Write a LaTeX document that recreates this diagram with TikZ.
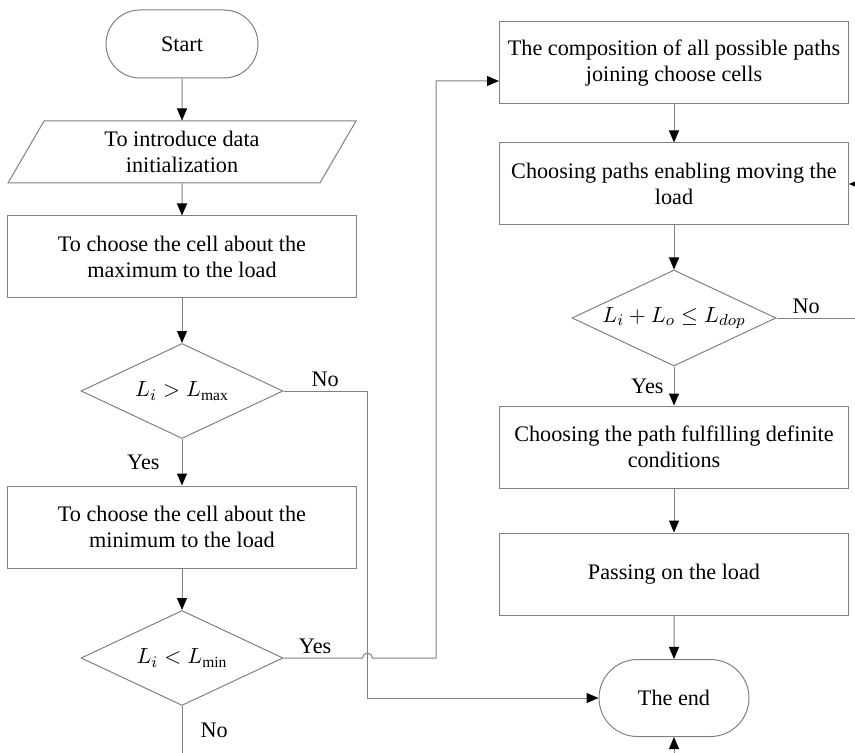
\documentclass[tikz,border=0pt]{standalone}
\usepackage{fontspec}
\setmainfont{Liberation Serif}
\usetikzlibrary{shapes.geometric,shapes.misc,arrows.meta}

\tikzset{
  base/.style={draw=gray, line width=0.5pt, align=center,
    font=\fontsize{11.1}{13}\selectfont, inner sep=2pt},
  terminal/.style={base, rounded rectangle, minimum width=80pt, minimum height=34pt},
  io/.style={base, trapezium, trapezium left angle=54, trapezium right angle=126,
    trapezium stretches body, minimum width=174pt, minimum height=31pt},
  process/.style={base, rectangle, minimum width=174.5pt, minimum height=41pt},
  decision/.style={base, diamond, aspect=2, minimum width=101pt, minimum height=47.5pt, inner sep=0pt},
  flow/.style={draw=gray, line width=0.5pt, -{Triangle[black, length=6pt, width=5pt]}},
  lbl/.style={font=\fontsize{11.1}{13}\selectfont, inner sep=2pt}
}

\begin{document}
\begin{tikzpicture}[x=0.5pt,y=-0.5pt]
  \clip (0,0) rectangle (855,753);

  % left column
  \node[terminal] (start)     at (182,44)  {Start};
  \node[io]       (input)     at (182,152) {To introduce data\\initialization};
  \node[process]  (choosemax) at (182,257) {To choose the cell about the\\maximum to the load};
  \node[decision] (testmax)   at (182,391) {$L_i > L_{\max}$};
  \node[process]  (choosemin) at (182,527) {To choose the cell about the\\minimum to the load};
  \node[decision] (testmin)   at (182,658) {$L_i < L_{\min}$};

  % right column
  \node[process]  (compose)     at (674,63)  {The composition of all possible paths\\joining choose cells};
  \node[process]  (choosepaths) at (674,184) {Choosing paths enabling moving the\\load};
  \node[decision, minimum width=102pt, minimum height=48pt]
                  (testlen)     at (674,318) {$L_i + L_o \le L_{dop}$};
  \node[process]  (choosepath)  at (674,447) {Choosing the path fulfilling definite\\conditions};
  \node[process]  (pass)        at (674,574) {Passing on the load};
  \node[terminal, minimum width=79pt, minimum height=38.5pt]
                  (theend)      at (674,698) {The end};

  \coordinate (nocorner)  at (367,698);
  \coordinate (yescorner) at (436,81);
  \coordinate (nobottom)  at (182,775);
  \coordinate (noright)   at (875,318);

  \foreach \from/\to in {start/input,input/choosemax,choosemax/testmax,
      choosemin/testmin,compose/choosepaths,choosepaths/testlen,
      choosepath/pass,pass/theend}
    \draw[flow] (\from) -- (\to);

  \draw[flow] (testmax) -- node[lbl, left=9pt] (yes1) {Yes} (choosemin);
  \draw[flow] (testmax.east) -- node[lbl, above] (no1) {No} (nocorner |- testmax.east)
    -- (nocorner) -- (theend.west);
  \draw[flow] (testmin.east) -- node[lbl, above, pos=0.4] (yes2) {Yes} ++(79,0)
    arc[start angle=180, end angle=0, radius=2.5pt]
    -- (yescorner |- testmin.east) -- (yescorner) -- (yescorner -| compose.west);
  \draw[flow] (testmin.south) -- node[lbl, right=7pt, pos=0.35] (no2) {No} (nobottom)
    -- (nobottom -| theend.south) -- (theend.south);
  \draw[flow] (testlen) -- node[lbl, left=3pt] (yes3) {Yes} (choosepath);
  \draw[flow] (testlen.east) -- node[lbl, above, pos=0.3] (no3) {No} (noright)
    -- (noright |- choosepaths.east) -- (choosepaths.east);

\end{tikzpicture}
\end{document}
